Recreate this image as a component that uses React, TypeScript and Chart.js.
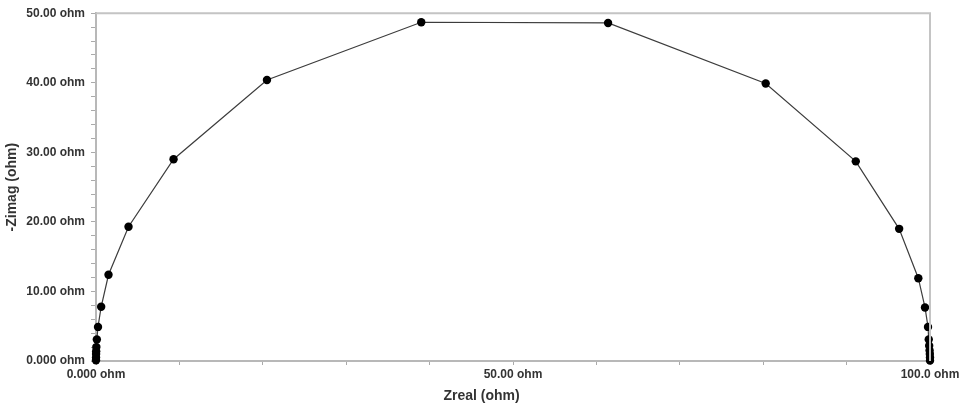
import React, { useEffect, useRef } from "react";
import { Chart, registerables } from "chart.js";

Chart.register(...registerables);

// Nyquist data (ohm), low frequency (right) to high frequency (left)
const zReal = [
  100.0, 100.0, 99.98, 99.95, 99.9, 99.85, 99.76, 99.4, 98.6, 96.3, 91.1, 80.3, 61.4,
  39.0, 20.5, 9.3, 3.9, 1.5, 0.62, 0.24, 0.1, 0.04, 0.02, 0.01, 0.005, 0.0,
];
const zImag = [
  0.05, 0.5, 1.0, 1.5, 2.2, 3.1, 4.9, 7.7, 11.9, 19.0, 28.7, 39.9, 48.6,
  48.7, 40.4, 29.0, 19.3, 12.4, 7.8, 4.9, 3.1, 2.0, 1.4, 1.0, 0.5, 0.1,
];

const xTickValues = [0, 50, 100];
const xTickLabels = ["0.000 ohm", "50.00 ohm", "100.0 ohm"];
const yTickValues = [0, 10, 20, 30, 40, 50];
const yTickLabels = ["0.000 ohm", "10.00 ohm", "20.00 ohm", "30.00 ohm", "40.00 ohm", "50.00 ohm"];

const xTitle = "Zreal (ohm)";
const yTitle = "-Zimag (ohm)";

const FONT = "'Liberation Sans', Arial, sans-serif";
const TEXT = "#333333";

export default function App() {
  const ref = useRef<HTMLCanvasElement | null>(null);

  useEffect(() => {
    const canvas = ref.current;
    if (!canvas) return;
    const points = zReal.map((x, i) => ({ x, y: zImag[i] }));

    const framePlugin = {
      id: "frame",
      afterDraw(chart: any) {
        const { ctx, chartArea } = chart;
        ctx.save();
        ctx.strokeStyle = "#c4c4c4";
        ctx.lineWidth = 2;
        ctx.beginPath();
        ctx.moveTo(chartArea.left, chartArea.top);
        ctx.lineTo(chartArea.right, chartArea.top);
        ctx.lineTo(chartArea.right, chartArea.bottom);
        ctx.stroke();
        ctx.fillStyle = TEXT;
        ctx.font = `bold 14px ${FONT}`;
        ctx.textAlign = "center";
        ctx.textBaseline = "middle";
        ctx.fillText(xTitle, chart.width / 2, 396);
        ctx.restore();
      },
    };

    const chart = new Chart(canvas, {
      type: "scatter",
      data: {
        datasets: [
          {
            data: points,
            showLine: true,
            borderColor: "#3c3c3c",
            borderWidth: 1.2,
            pointBackgroundColor: "#000000",
            pointBorderColor: "#000000",
            pointRadius: 4.2,
            pointBorderWidth: 0,
            clip: false as any,
          },
        ],
      },
      options: {
        animation: false,
        responsive: true,
        maintainAspectRatio: false,
        layout: { padding: { top: 9, right: 33, left: 0, bottom: 0 } },
        plugins: {
          legend: { display: false },
          tooltip: { enabled: false },
        },
        scales: {
          x: {
            type: "linear",
            min: 0,
            max: 100,
            afterFit: (scale: any) => {
              scale.height = 48;
            },
            ticks: {
              stepSize: 10,
              autoSkip: false,
              maxRotation: 0,
              padding: 2,
              color: TEXT,
              font: { family: FONT, size: 12, weight: "bold" },
              callback: (v: any) => {
                const i = xTickValues.indexOf(Number(v));
                return i >= 0 ? xTickLabels[i] : "";
              },
            },
            grid: {
              drawOnChartArea: false,
              drawTicks: true,
              tickLength: 4,
              color: "#aaaaaa",
            },
            border: { display: true, color: "#b8b8b8", width: 2 },
          },
          y: {
            type: "linear",
            min: 0,
            max: 50,
            afterFit: (scale: any) => {
              scale.width = 96;
            },
            title: {
              display: true,
              text: yTitle,
              color: TEXT,
              font: { family: FONT, size: 14, weight: "bold" },
              padding: { top: 4, bottom: 0 },
            },
            ticks: {
              stepSize: 2,
              autoSkip: false,
              padding: 6,
              color: TEXT,
              font: { family: FONT, size: 12, weight: "bold" },
              callback: (v: any) => {
                const i = yTickValues.indexOf(Number(v));
                return i >= 0 ? yTickLabels[i] : "";
              },
            },
            grid: {
              drawOnChartArea: false,
              drawTicks: true,
              tickLength: 5,
              color: "#aaaaaa",
            },
            border: { display: true, color: "#b8b8b8", width: 2 },
          },
        },
      } as any,
      plugins: [framePlugin],
    });
    return () => chart.destroy();
  }, []);

  return (
    <div
      style={{
        position: "fixed",
        left: 0,
        top: 0,
        width: 963,
        height: 409,
        background: "#ffffff",
      }}
    >
      <canvas ref={ref} />
    </div>
  );
}
